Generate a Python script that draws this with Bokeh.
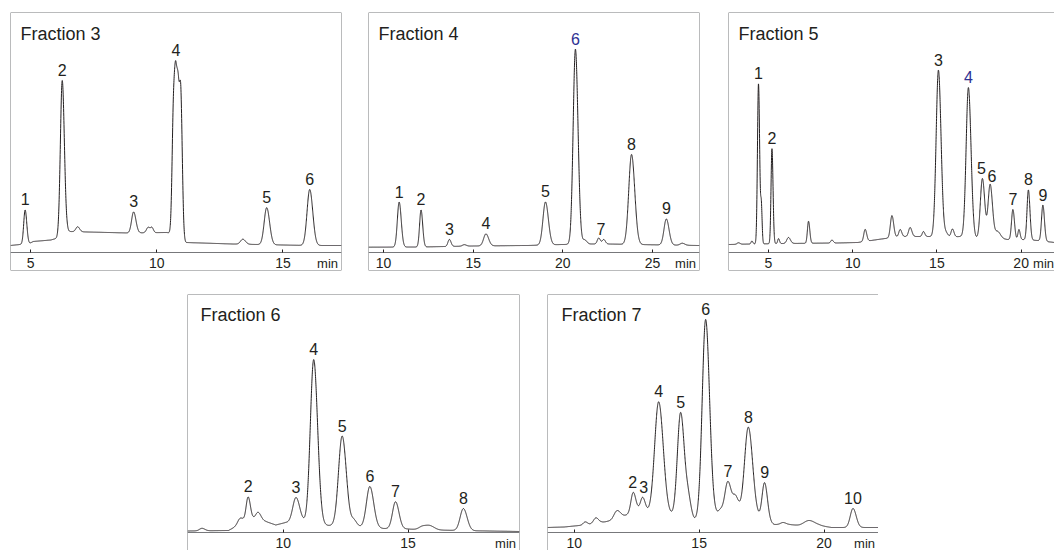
import numpy as np
from bokeh.plotting import figure
from bokeh.models import Range1d, LinearAxis, FixedTicker, Span, Label
from bokeh.layouts import column, row
from bokeh.embed import file_html
from bokeh.resources import INLINE

# ---------------- data (retention time in min, signal in arbitrary units) -------------
# Fraction 3
f3_ticks = [5, 10, 15]
f3_base_t = [4.2, 4.95, 5.1, 5.8, 6.15, 6.45, 8.9, 10.4, 10.75, 11.15, 13.0, 16.0, 17.32]
f3_base_h = [7, 9, 11, 12.5, 15, 21, 19.5, 20, 18, 10, 8.5, 7, 7]
f3_rt = [4.78, 6.25, 6.86, 9.08, 9.66, 9.81, 10.66, 10.76, 10.86, 10.96, 13.41, 14.355, 16.06]
f3_amp = [34, 155, 5, 21, 5.5, 4.5, 118, 118, 110, 114, 5, 37, 56]
f3_sig = [0.056, 0.073, 0.07, 0.08, 0.07, 0.05, 0.055, 0.055, 0.055, 0.05, 0.09, 0.1, 0.105]
f3_lab = ["1", "2", "3", "4", "5", "6"]
f3_lab_t = [4.78, 6.25, 9.08, 10.76, 14.355, 16.06]

# Fraction 4
f4_ticks = [10, 15, 20, 25]
f4_base_t = [9.16, 12.0, 15.0, 18.0, 21.0, 22.5, 24.0, 27.62]
f4_base_h = [5.3, 5.5, 6.5, 7, 8.5, 8.5, 8, 7]
f4_rt = [10.87, 12.09, 13.67, 14.5, 15.71, 19.03, 20.70, 21.22, 22.00, 22.28, 23.83, 25.77, 26.66]
f4_amp = [45, 37, 7, 1.5, 12, 43, 195, 4, 6, 4.5, 90, 26, 2]
f4_sig = [0.1, 0.08, 0.08, 0.1, 0.13, 0.14, 0.126, 0.1, 0.08, 0.08, 0.155, 0.13, 0.12]
f4_lab = ["1", "2", "3", "4", "5", "6", "7", "8", "9"]
f4_lab_t = [10.87, 12.09, 13.67, 15.71, 19.03, 20.70, 22.12, 23.83, 25.77]

# Fraction 5
f5_ticks = [5, 10, 15, 20]
f5_base_t = [2.63, 4.0, 6.0, 9.0, 10.3, 11.5, 12.8, 14.5, 15.45, 16.4, 17.3, 18.6, 19.2, 20.0, 21.0, 21.98]
f5_base_h = [8, 8.5, 9, 9.5, 10, 13, 16, 16, 15, 16, 14, 14, 13, 13, 12, 10]
f5_rt = [3.22, 4.02, 4.41, 4.58, 5.21, 5.60, 6.19, 7.38, 8.77, 10.74, 12.33, 12.82, 13.41,
         14.20, 15.09, 15.55, 15.92, 16.87, 17.70, 18.16, 18.6, 19.51, 19.87, 20.43, 21.29]
f5_amp = [1.5, 3, 160, 36, 95, 5, 6, 22, 3, 12, 22, 7, 9,
          5, 167, 4, 8, 150, 60, 54, 7, 30, 10, 50, 36]
f5_sig = [0.08, 0.05, 0.06, 0.04, 0.055, 0.05, 0.1, 0.065, 0.07, 0.08, 0.09, 0.08, 0.09,
          0.07, 0.135, 0.1, 0.08, 0.135, 0.12, 0.12, 0.15, 0.08, 0.06, 0.08, 0.08]
f5_lab = ["1", "2", "3", "4", "5", "6", "7", "8", "9"]
f5_lab_t = [4.41, 5.21, 15.09, 16.87, 17.64, 18.26, 19.51, 20.43, 21.29]

# Fraction 6
f6_ticks = [10, 15]
f6_base_t = [6.16, 7.8, 8.1, 8.4, 8.8, 9.3, 9.7, 10.1, 10.8, 11.2, 11.8, 12.9, 14.0, 15.0, 15.3, 17.0, 19.47]
f6_base_h = [1.5, 2, 6, 10, 13, 11, 7.5, 10, 10, 8, 7, 6, 4, 3.5, 3, 2, 1]
f6_rt = [6.74, 8.27, 8.59, 8.99, 10.51, 11.22, 12.36, 12.83, 13.47, 14.50, 15.6, 15.9, 17.22]
f6_amp = [2.5, 6, 24, 8, 25, 165, 90, 6, 41, 27, 3.5, 3.5, 22]
f6_sig = [0.1, 0.1, 0.08, 0.1, 0.13, 0.135, 0.145, 0.1, 0.135, 0.12, 0.15, 0.15, 0.13]
f6_lab = ["2", "3", "4", "5", "6", "7", "8"]
f6_lab_t = [8.59, 10.51, 11.22, 12.36, 13.47, 14.50, 17.22]

# Fraction 7
f7_ticks = [10, 15, 20]
f7_base_t = [8.93, 9.6, 10.2, 10.6, 11.0, 11.1, 11.5, 11.95, 12.55, 13.0, 13.9, 14.8, 15.7, 16.6, 17.3, 18.0, 18.6, 19.0, 19.8, 20.3, 22.18]
f7_base_h = [5, 5.5, 7, 8, 9, 10, 12, 16, 22, 20, 17, 12, 18, 20, 15, 8, 8, 7, 7, 5, 5]
f7_rt = [10.44, 10.87, 11.71, 12.36, 12.74, 13.38, 14.26, 14.57, 15.26, 15.85, 16.15, 16.46, 16.97, 17.62, 18.36, 19.40, 21.16]
f7_amp = [3, 6, 8, 20, 14, 112, 105, 18, 198, 4, 32, 15, 88, 38, 2, 5, 19]
f7_sig = [0.08, 0.1, 0.12, 0.09, 0.09, 0.16, 0.13, 0.1, 0.136, 0.08, 0.12, 0.1, 0.15, 0.1, 0.1, 0.2, 0.11]
f7_lab = ["2", "3", "4", "5", "6", "7", "8", "9", "10"]
f7_lab_t = [12.34, 12.78, 13.38, 14.26, 15.26, 16.15, 16.97, 17.62, 21.16]

# ---------------- styling -------------
INK = "#231f20"
GRAY = "#77787b"
BLUE = "#2e3192"
FONT = "Liberation Sans"
TAIL = 1.15


def trace(t, bt, bh, rt, amp, sig):
    y = np.interp(t, bt, bh)
    for r, a, s in zip(rt, amp, sig):
        ss = np.where(t < r, s, s * TAIL)
        y = y + a * np.exp(-0.5 * ((t - r) / ss) ** 2)
    return y


def panel(name, xr, yr, ticks, bt, bh, rt, amp, sig, labs, lab_t, blue, geom,
          title_dx, title_dy, min_left=None, sides=("l", "r", "t", "b")):
    ml, fw, mr, mt, fh, mb = geom
    xs, xe = xr
    ys, ye = yr
    p = figure(width=ml + fw + mr, height=mt + fh + mb,
               x_range=Range1d(xs, xe), y_range=Range1d(ys, ye),
               x_axis_type=None, y_axis_type=None, toolbar_location=None,
               output_backend="svg", min_border_left=ml, min_border_right=mr,
               min_border_top=mt, min_border_bottom=mb, outline_line_color=None,
               background_fill_color="white", border_fill_color="white")
    ppm = fw / (xe - xs)
    t = np.arange(xs, xe + 0.002, 0.004)
    y = trace(t, bt, bh, rt, amp, sig)
    p.line(t, y, line_color=INK, line_width=1)

    ax = LinearAxis(fixed_location=0, ticker=FixedTicker(ticks=ticks),
                    major_tick_in=3, major_tick_out=0, minor_tick_line_color=None,
                    axis_line_color=GRAY, major_tick_line_color=INK,
                    major_label_text_font=FONT, major_label_text_font_size="14px",
                    major_label_text_color=INK, major_label_standoff=5)
    p.add_layout(ax, "below")

    for s in sides:
        if s == "l":
            p.add_layout(Span(location=xs, dimension="height", line_color=GRAY, line_width=1))
        if s == "r":
            p.add_layout(Span(location=xe, dimension="height", line_color=GRAY, line_width=1))
        if s == "t":
            p.add_layout(Span(location=ye, dimension="width", line_color=GRAY, line_width=1))
        if s == "b":
            p.add_layout(Span(location=ys, dimension="width", line_color=GRAY, line_width=1))

    for i, (txt, lt) in enumerate(zip(labs, lab_t)):
        m = np.abs(t - lt) < 0.06
        top = y[m].max()
        p.add_layout(Label(x=lt, y=top + 10.5, text=txt, text_align="center",
                           text_baseline="middle", text_font=FONT,
                           text_font_size="16px",
                           text_color=BLUE if i == blue else INK))

    p.add_layout(Label(x=xs + title_dx / ppm, y=ye - title_dy, text=name,
                       text_baseline="middle", text_font=FONT,
                       text_font_size="18px", text_color=INK))
    if min_left is None:
        p.add_layout(Label(x=xe - 3.5 / ppm, y=-10.5, text="min", text_align="right",
                           text_baseline="middle", text_font=FONT,
                           text_font_size="13px", text_color=INK))
    else:
        p.add_layout(Label(x=min_left, y=-10.5, text="min", text_align="left",
                           text_baseline="middle", text_font=FONT,
                           text_font_size="13px", text_color=INK))
    return p


p3 = panel("Fraction 3", (4.20, 17.32), (-18, 240), f3_ticks, f3_base_t, f3_base_h,
           f3_rt, f3_amp, f3_sig, f3_lab, f3_lab_t, -1, (10, 331, 13, 12, 258, 6), 10, 21)
p4 = panel("Fraction 4", (9.16, 27.62), (-18, 240), f4_ticks, f4_base_t, f4_base_h,
           f4_rt, f4_amp, f4_sig, f4_lab, f4_lab_t, 5, (14, 331, 14, 12, 258, 6), 10, 21)
p5 = panel("Fraction 5", (2.63, 21.98), (-18, 240), f5_ticks, f5_base_t, f5_base_h,
           f5_rt, f5_amp, f5_sig, f5_lab, f5_lab_t, 3, (15, 326, 0, 12, 258, 6), 10, 21,
           min_left=20.71, sides=("l", "t", "b"))
p6 = panel("Fraction 6", (6.16, 19.47), (-18, 238), f6_ticks, f6_base_t, f6_base_h,
           f6_rt, f6_amp, f6_sig, f6_lab, f6_lab_t, -1, (187, 332, 14, 18, 256, 0), 13, 20,
           sides=("l", "r", "t"))
p7 = panel("Fraction 7", (8.93, 22.18), (-18, 238), f7_ticks, f7_base_t, f7_base_h,
           f7_rt, f7_amp, f7_sig, f7_lab, f7_lab_t, -1, (14, 331, 0, 18, 256, 0), 14, 20,
           sides=("l", "r", "t"))

layout = column(row(p3, p4, p5), row(p6, p7))
open("out.html", "w").write(file_html(layout, INLINE))
